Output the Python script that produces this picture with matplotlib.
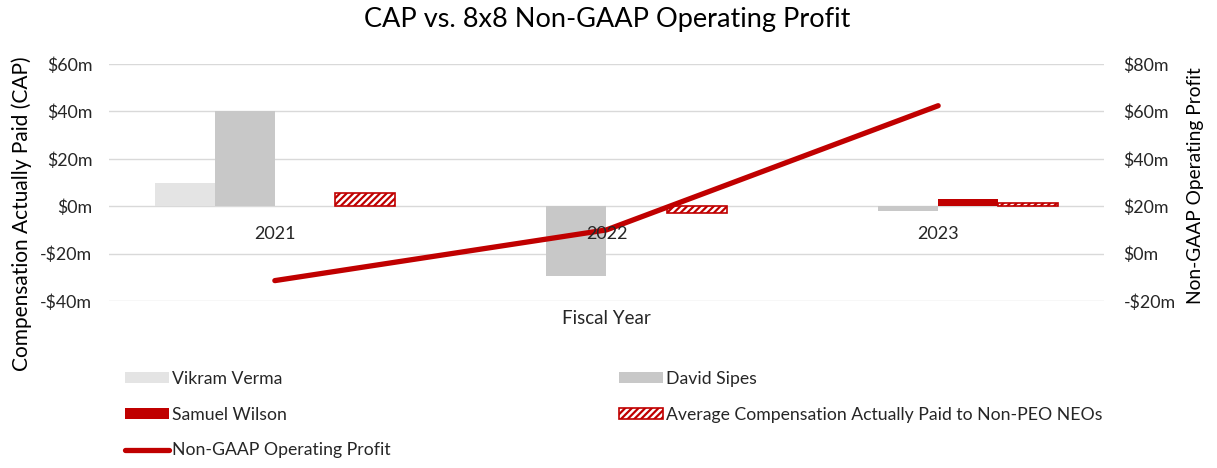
import numpy as np
import matplotlib
matplotlib.use("Agg")
import matplotlib.pyplot as plt
from matplotlib.patches import Patch
from matplotlib.lines import Line2D

plt.rcParams['font.family'] = ['Lato', 'DejaVu Sans']
plt.rcParams['hatch.linewidth'] = 1.6

years = ["2021", "2022", "2023"]
vikram_verma = [10.0, np.nan, np.nan]
david_sipes = [40.0, -29.5, -2.0]
samuel_wilson = [np.nan, np.nan, 3.0]
avg_non_peo = [5.6, -3.0, 1.2]
non_gaap_op_profit = [-11.4, 10.0, 62.4]

left_ticks = [-40, -20, 0, 20, 40, 60]
right_ticks = [-20, 0, 20, 40, 60, 80]

def money(v):
    return f"-${abs(v)}m" if v < 0 else f"${v}m"

fig = plt.figure(figsize=(12.17, 4.68), dpi=100)
L, R, T, B = 109, 1104, 64, 301
ax = fig.add_axes([L/1217, 1-B/468, (R-L)/1217, (B-T)/468])

x = np.arange(len(years))
w = 0.181
gray_light = "#E4E4E4"
gray = "#C8C8C8"
red = "#C00000"
txt = "#262626"

ax.bar(x - 1.5*w, vikram_verma, w, color=gray_light, zorder=2)
ax.bar(x - 0.5*w, david_sipes, w, color=gray, zorder=2)
ax.bar(x + 0.5*w, samuel_wilson, w, color=red, zorder=2)
ax.bar(x + 1.5*w, avg_non_peo, w, facecolor="white", edgecolor=red, hatch="/////", linewidth=1.2, zorder=2)

ax.set_ylim(-40, 60)
ax.set_yticks(left_ticks)
ax.set_yticklabels([money(v) for v in left_ticks])
ax.set_xlim(-0.5, 2.5)
ax.set_xticks(x)
ax.set_xticklabels(years)
ax.set_axisbelow(True)
ax.grid(axis='y', color="#D9D9D9", linewidth=1.0)
for s in ax.spines.values():
    s.set_visible(False)
ax.spines['bottom'].set_position(('data', 0))
ax.tick_params(axis='x', length=0, pad=14, labelsize=13, colors=txt)
ax.tick_params(axis='y', length=0, pad=12, labelsize=12.8, colors=txt)
ax.xaxis.set_zorder(10)

ax2 = ax.twinx()
ax2.set_ylim(-20, 80)
ax2.set_yticks(right_ticks)
ax2.set_yticklabels([money(v) for v in right_ticks])
for s in ax2.spines.values():
    s.set_visible(False)
ax2.tick_params(axis='y', length=0, pad=14, labelsize=12.8, colors=txt)
ax.set_zorder(ax2.get_zorder() + 1)
ax.patch.set_visible(False)

# line drawn in ax using the right axis' data scale so year labels sit on top
ax.plot(x, non_gaap_op_profit, color=red, linewidth=3.8, solid_capstyle='round',
        transform=ax2.transData, zorder=5)

fig.text(607/1217, 1-19/468, "CAP vs. 8x8 Non-GAAP Operating Profit", ha='center', va='center', fontsize=19.5, color="#000000")
fig.text(606/1217, 1-318/468, "Fiscal Year", ha='center', va='center', fontsize=13.5, color=txt)
fig.text(22/1217, 1-214/468, "Compensation Actually Paid (CAP)", ha='center', va='center', rotation=90, fontsize=15, color="#000000")
fig.text(1195/1217, 1-186/468, "Non-GAAP Operating Profit", ha='center', va='center', rotation=90, fontsize=13.8, color="#000000")

handles = [
    Patch(facecolor=gray_light, edgecolor='none'),
    Patch(facecolor=red, edgecolor='none'),
    Line2D([0], [0], color=red, linewidth=3.8, solid_capstyle='round'),
    Patch(facecolor=gray, edgecolor='none'),
    Patch(facecolor="white", edgecolor=red, hatch="/////", linewidth=1.2),
]
labels = ["Vikram Verma", "Samuel Wilson", "Non-GAAP Operating Profit",
          "David Sipes", "Average Compensation Actually Paid to Non-PEO NEOs"]
fig.legend(handles, labels, ncol=2, loc='upper left', bbox_to_anchor=(109/1217, 1-355/468),
           frameon=False, fontsize=12.7, handlelength=2.5, handleheight=0.55, handletextpad=0.17,
           labelspacing=1.12, columnspacing=12.95, labelcolor=txt)

fig.savefig("out.png", dpi=100)
